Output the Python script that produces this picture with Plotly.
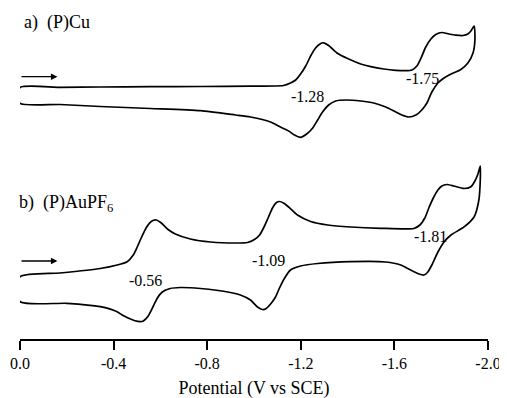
import plotly.graph_objects as go

# ---- Data (potential in V vs SCE, current in arbitrary units, curves offset) ----
# (a) (P)Cu : forward (cathodic) scan
a_fwd_E = [0.000, -0.171, -0.343, -0.557, -0.771, -0.985, -1.126, -1.156, -1.178, -1.199, -1.221,
           -1.242, -1.263, -1.285, -1.298, -1.319, -1.358, -1.400, -1.456, -1.499, -1.555, -1.606,
           -1.649, -1.675, -1.696, -1.713, -1.734, -1.756, -1.777, -1.803, -1.833, -1.863, -1.893,
           -1.914, -1.927, -1.941]
a_fwd_I = [25.15, 25.17, 25.20, 25.23, 25.25, 25.28, 25.35, 25.60, 25.90, 26.50, 27.30,
           28.30, 29.10, 29.55, 29.62, 29.35, 28.55, 28.05, 27.50, 27.23, 27.00, 26.87,
           26.83, 26.90, 27.30, 28.05, 29.20, 30.00, 30.45, 30.65, 30.50, 30.38, 30.35,
           30.50, 30.80, 31.30]
# (a) reverse (anodic) scan
a_rev_E = [-1.944, -1.936, -1.914, -1.884, -1.842, -1.812, -1.786, -1.760, -1.739, -1.717, -1.692,
           -1.662, -1.632, -1.606, -1.563, -1.512, -1.456, -1.392, -1.349, -1.319, -1.293, -1.272,
           -1.251, -1.225, -1.199, -1.173, -1.148, -1.113, -1.071, -0.985, -0.921, -0.771, -0.557,
           -0.343, -0.171, 0.000, 0.000]
a_rev_I = [29.90, 28.60, 27.60, 26.95, 26.50, 26.10, 25.60, 24.70, 23.60, 22.90, 22.40,
           22.20, 22.40, 22.70, 23.20, 23.60, 23.80, 23.90, 23.80, 23.40, 22.70, 21.90,
           21.10, 20.50, 20.17, 20.40, 20.80, 21.20, 21.70, 22.20, 22.40, 22.83, 23.05,
           23.25, 23.45, 23.57, 25.15]

# (b) (P)AuPF6 : forward scan
b_fwd_E = [0.000, -0.171, -0.343, -0.415, -0.458, -0.484, -0.501, -0.518, -0.540, -0.561, -0.582,
           -0.604, -0.630, -0.664, -0.728, -0.814, -0.921, -0.972, -1.002, -1.024, -1.045, -1.062,
           -1.079, -1.096, -1.109, -1.126, -1.148, -1.186, -1.242, -1.315, -1.413, -1.542, -1.683,
           -1.709, -1.730, -1.747, -1.764, -1.786, -1.803, -1.824, -1.854, -1.897, -1.927, -1.944,
           -1.957, -1.967]
b_fwd_I = [6.23, 6.60, 7.05, 7.40, 7.73, 8.40, 9.20, 10.10, 11.15, 11.75, 11.90,
           11.60, 11.00, 10.50, 10.00, 9.70, 9.60, 9.65, 9.95, 10.40, 11.30, 12.20,
           13.10, 13.65, 13.75, 13.60, 13.20, 12.40, 11.75, 11.40, 11.20, 11.07, 11.05,
           11.40, 12.10, 13.10, 14.00, 14.90, 15.30, 15.45, 15.30, 15.05, 15.23, 15.80,
           16.50, 17.30]
# (b) reverse scan
b_rev_E = [-1.967, -1.961, -1.941, -1.899, -1.842, -1.813, -1.786, -1.760, -1.743, -1.726, -1.705,
           -1.683, -1.627, -1.563, -1.413, -1.272, -1.199, -1.156, -1.131, -1.109, -1.092, -1.071,
           -1.049, -1.036, -1.015, -0.985, -0.942, -0.899, -0.771, -0.685, -0.642, -0.608, -0.587,
           -0.570, -0.548, -0.527, -0.514, -0.488, -0.462, -0.437, -0.415, -0.343, -0.201, 0.000,
           0.000]
b_rev_I = [15.90, 13.90, 12.23, 11.23, 10.40, 9.73, 8.70, 7.40, 6.70, 6.40, 6.50,
           6.73, 7.40, 7.70, 7.73, 7.55, 7.30, 6.90, 6.10, 5.10, 4.20, 3.50,
           3.00, 2.95, 3.20, 3.90, 4.40, 4.65, 5.05, 5.15, 5.05, 4.70, 4.10,
           3.30, 2.30, 1.80, 1.73, 1.85, 2.10, 2.40, 2.73, 3.23, 3.57, 3.73,
           6.23]

# Peak labels (E1/2 values) and their positions
peak_text = ["-1.28", "-1.75", "-0.56", "-1.09", "-1.81"]
peak_E = [-1.230, -1.722, -0.535, -1.063, -1.756]
peak_I = [24.23, 26.07, 5.90, 7.90, 10.30]

tick_vals = [0.0, -0.4, -0.8, -1.2, -1.6, -2.0]
tick_text = ["0.0", "-0.4", "-0.8", "-1.2", "-1.6", "-2.0"]

FONT = "Liberation Serif"

fig = go.Figure()
line = dict(color="black", width=1.7)
fig.add_trace(go.Scatter(x=a_fwd_E + a_rev_E, y=a_fwd_I + a_rev_I, mode="lines",
                         line=dict(line, shape="spline", smoothing=0.6), showlegend=False,
                         hoverinfo="skip"))
fig.add_trace(go.Scatter(x=b_fwd_E + b_rev_E, y=b_fwd_I + b_rev_I, mode="lines",
                         line=dict(line, shape="spline", smoothing=0.6), showlegend=False,
                         hoverinfo="skip"))

annotations = []
for t, e, i in zip(peak_text, peak_E, peak_I):
    annotations.append(dict(x=e, y=i, text=t, showarrow=False, xref="x", yref="y",
                            font=dict(family=FONT, size=16, color="black")))

annotations.append(dict(x=0.0, y=31.7, xshift=2, text="a)  (P)Cu", showarrow=False, xref="x", yref="y",
                        xanchor="left", font=dict(family=FONT, size=18, color="black")))
annotations.append(dict(x=0.0, y=13.6, xshift=-3, text="b)  (P)AuPF<sub>6</sub>", showarrow=False,
                        xref="x", yref="y", xanchor="left",
                        font=dict(family=FONT, size=18, color="black")))

# scan direction arrows
for yv in [26.23, 7.8]:
    annotations.append(dict(x=-0.160, y=yv, ax=0.0, ay=yv, xref="x", yref="y", axref="x", ayref="y",
                            text="", showarrow=True, arrowhead=2, arrowsize=1.0, arrowwidth=1.3,
                            arrowcolor="black"))

# The page body has an 8px default margin, so margins are shifted to compensate.
fig.update_layout(
    width=507, height=398,
    margin=dict(l=12, r=27, t=0, b=67),
    paper_bgcolor="white", plot_bgcolor="white",
    annotations=annotations,
    xaxis=dict(range=[0.0, -2.0], tickvals=tick_vals, ticktext=tick_text, automargin=False,
               showline=True, linecolor="black", linewidth=1.5,
               ticks="outside", ticklen=9, tickwidth=1.5, tickcolor="black",
               showgrid=False, zeroline=False,
               tickfont=dict(family=FONT, size=16, color="black"),
               title=dict(text="Potential (V vs SCE)", standoff=10,
                          font=dict(family=FONT, size=18, color="black"))),
    yaxis=dict(range=[0, 33.1], visible=False, showgrid=False, zeroline=False, automargin=False),
)

fig.write_html("out.html")
